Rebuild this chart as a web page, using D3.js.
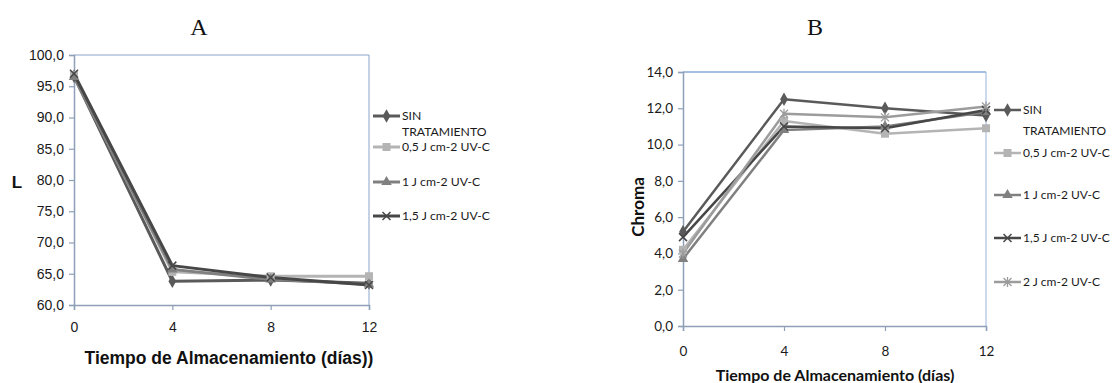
<!DOCTYPE html>
<html><head><meta charset="utf-8">
<script src="https://cdn.jsdelivr.net/npm/d3@7"></script>
<style>body{margin:0;background:#fff}svg{display:block}</style></head>
<body><svg id="c" width="1112" height="383"></svg>
<script>
// ---- data ----
const days = [0, 4, 8, 12];
const seriesNames = ["SIN TRATAMIENTO", "0,5 J cm-2 UV-C", "1 J cm-2 UV-C", "1,5 J cm-2 UV-C", "2 J cm-2 UV-C"];
// Chart A: L
const lSin  = [96.6, 63.8, 64.0, 63.5];
const l05   = [96.8, 65.3, 64.6, 64.6];
const l1    = [96.5, 65.7, 64.1, 63.3];
const l15   = [97.0, 66.3, 64.4, 63.2];
const yTicksA = [60, 65, 70, 75, 80, 85, 90, 95, 100];
// Chart B: Chroma
const cSin = [5.2, 12.5, 12.0, 11.6];
const c05  = [4.2, 11.3, 10.6, 10.9];
const c1   = [3.7, 10.8, 11.0, 11.8];
const c15  = [4.9, 11.0, 10.9, 11.9];
const c2   = [4.0, 11.7, 11.5, 12.1];
const yTicksB = [0, 2, 4, 6, 8, 10, 12, 14];

const colors = ["#5a5a5a", "#b4b4b4", "#808080", "#474747", "#9c9c9c"];
const markers = ["diamond", "square", "triangle", "x", "star"];

const svg = d3.select("#c");
const fmt = d => d.toFixed(1).replace(".", ",");

function marker(g, type, x, y, col) {
  const s = 4;
  if (type === "diamond") g.append("path").attr("d", d3.symbol(d3.symbolDiamond, 52)()).attr("transform", `translate(${x},${y})`).attr("fill", col);
  else if (type === "square") g.append("rect").attr("x", x - s).attr("y", y - s).attr("width", 2 * s).attr("height", 2 * s).attr("fill", col);
  else if (type === "triangle") g.append("path").attr("d", d3.symbol(d3.symbolTriangle, 48)()).attr("transform", `translate(${x},${y})`).attr("fill", col);
  else if (type === "x") g.append("path").attr("d", `M${x-s},${y-s}L${x+s},${y+s}M${x-s},${y+s}L${x+s},${y-s}`).attr("stroke", col).attr("stroke-width", 1.5);
  else if (type === "star") g.append("path").attr("d", `M${x-s},${y-s}L${x+s},${y+s}M${x-s},${y+s}L${x+s},${y-s}M${x},${y-s-1}L${x},${y+s+1}`).attr("stroke", col).attr("stroke-width", 1.3);
}

function chart(cfg) {
  const x = d3.scaleLinear().domain([0, 12]).range([cfg.left, cfg.right]);
  const y = d3.scaleLinear().domain(cfg.yDomain).range([cfg.bottom, cfg.top]);
  const g = svg.append("g");
  g.append("line").attr("x1", cfg.left).attr("x2", cfg.right).attr("y1", cfg.top).attr("y2", cfg.top).attr("stroke", cfg.frame).attr("stroke-width", 1);
  g.append("line").attr("x1", cfg.right).attr("x2", cfg.right).attr("y1", cfg.top).attr("y2", cfg.bottom).attr("stroke", cfg.frameR).attr("stroke-width", 1);
  const ya = g.append("g").attr("transform", `translate(${cfg.left},0)`)
    .call(d3.axisLeft(y).tickValues(cfg.yTicks).tickFormat(fmt).tickSize(5).tickPadding(5));
  const xa = g.append("g").attr("transform", `translate(0,${cfg.bottom})`)
    .call(d3.axisBottom(x).tickValues(days).tickFormat(d3.format("d")).tickSize(5).tickPadding(cfg.xPad));
  [ya, xa].forEach(a => {
    a.selectAll(".domain").attr("stroke", cfg.axis).attr("stroke-width", 1.5);
    a.selectAll(".tick line").attr("stroke", cfg.axis).attr("stroke-width", 1.2);
    a.selectAll("text").attr("fill", "#1a1a1a").style("font-family", cfg.tickFont).style("font-size", cfg.tickSize + "px");
  });
  const line = d3.line().x((d, i) => x(days[i])).y(d => y(d));
  cfg.series.forEach((s, k) => {
    g.append("path").datum(s).attr("d", line).attr("fill", "none").attr("stroke", colors[k]).attr("stroke-width", cfg.lw).attr("stroke-linejoin", "round");
  });
  cfg.series.forEach((s, k) => {
    s.forEach((v, i) => marker(g, markers[k], x(days[i]), y(v), colors[k]));
  });
  cfg.legendY.forEach((ly, k) => {
    g.append("line").attr("x1", cfg.legX).attr("x2", cfg.legX + 27).attr("y1", ly).attr("y2", ly).attr("stroke", colors[k]).attr("stroke-width", cfg.lw);
    marker(g, markers[k], cfg.legX + 13.5, ly, colors[k]);
    const t = g.append("text").attr("x", cfg.legX + 29).attr("y", ly).attr("dy", "0.35em")
      .style("font-family", cfg.legFont).style("font-size", cfg.legSize + "px").attr("fill", "#1a1a1a");
    if (k === 0) {
      t.text("SIN");
      g.append("text").attr("x", cfg.legX + 29).attr("y", ly + cfg.legLine).attr("dy", "0.35em")
        .style("font-family", cfg.legFont).style("font-size", cfg.legSize + "px").attr("fill", "#1a1a1a").text("TRATAMIENTO");
    } else t.text(seriesNames[k]);
  });
  return {x, y};
}

chart({
  left: 74, right: 369, top: 55, bottom: 305, yDomain: [60, 100], yTicks: yTicksA,
  frame: "#8aa5cc", frameR: "#8aa5cc", axis: "#8e9fb8",
  tickFont: "Liberation Sans, Arial, sans-serif", tickSize: 14, xPad: 12,
  series: [lSin, l05, l1, l15], lw: 3,
  legX: 373, legendY: [116, 147, 182, 216], legLine: 15.5,
  legFont: "Lato, 'Open Sans', sans-serif", legSize: 12.2
});
chart({
  left: 683, right: 986, top: 72, bottom: 326, yDomain: [0, 14], yTicks: yTicksB,
  frame: "#4f7fbf", frameR: "#9ab3d9", axis: "#8e9fb8",
  tickFont: "Lato, 'Open Sans', sans-serif", tickSize: 13.5, xPad: 15,
  series: [cSin, c05, c1, c15, c2], lw: 2.5,
  legX: 994, legendY: [110, 153, 195, 238, 282], legLine: 21,
  legFont: "Lato, 'Open Sans', sans-serif", legSize: 12
});

svg.append("text").attr("x", 199).attr("y", 35).attr("text-anchor", "middle")
  .style("font-family", "Liberation Serif, Times New Roman, serif").style("font-size", "24px").attr("fill", "#111").text("A");
svg.append("text").attr("x", 815).attr("y", 35).attr("text-anchor", "middle")
  .style("font-family", "Liberation Serif, Times New Roman, serif").style("font-size", "24px").attr("fill", "#111").text("B");
svg.append("text").attr("x", 17).attr("y", 182).attr("dy", "0.35em").attr("text-anchor", "middle")
  .style("font-family", "Liberation Sans, Arial, sans-serif").style("font-weight", "bold").style("font-size", "17px").attr("fill", "#111").text("L");
svg.append("text").attr("x", 229).attr("y", 358).attr("dy", "0.35em").attr("text-anchor", "middle")
  .style("font-family", "Liberation Sans, Arial, sans-serif").style("font-weight", "bold").style("font-size", "17.5px").attr("fill", "#111").text("Tiempo de Almacenamiento (días))");
svg.append("text").attr("transform", "translate(638,207) rotate(-90)").attr("dy", "0.35em").attr("text-anchor", "middle")
  .style("font-family", "Lato, 'Open Sans', sans-serif").style("font-weight", "bold").style("font-size", "17px").attr("fill", "#111").text("Chroma");
svg.append("text").attr("x", 835).attr("y", 375).attr("dy", "0.35em").attr("text-anchor", "middle")
  .style("font-family", "Lato, 'Open Sans', sans-serif").style("font-weight", "bold").style("font-size", "16px").attr("fill", "#111").text("Tiempo de Almacenamiento (días)");
</script></body></html>
